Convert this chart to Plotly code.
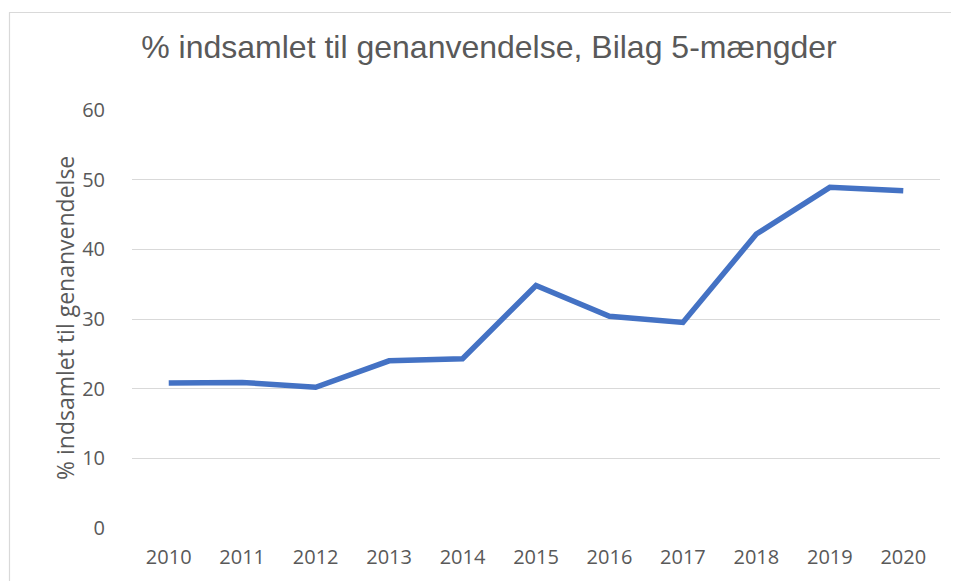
import plotly.graph_objects as go

years = ["2010", "2011", "2012", "2013", "2014", "2015", "2016", "2017", "2018", "2019", "2020"]
pct = [20.8, 20.9, 20.2, 24.0, 24.3, 34.8, 30.4, 29.5, 42.2, 48.9, 48.4]
y_ticks = [0, 10, 20, 30, 40, 50, 60]

W, H = 959, 581
OFF = 8  # page offset of the figure in the browser
# target screen positions of plot area
SL, SR, ST, SB = 132, 940, 110, 528
L, T = SL - OFF, ST - OFF
R = W - (SR - OFF)
B = H - (SB - OFF)

def px_x(p):  # screen px -> paper
    return (p - SL) / (SR - SL)

def px_y(p):
    return (SB - p) / (SB - ST)

fig = go.Figure()
fig.add_trace(go.Scatter(
    x=years, y=pct, mode="lines",
    line=dict(color="#4472C4", width=5.5),
    hoverinfo="x+y",
))

fig.add_shape(type="rect", xref="paper", yref="paper",
              x0=px_x(9.5), x1=px_x(975), y0=px_y(600), y1=px_y(12.5),
              line=dict(color="#d9d9d9", width=1.2), fillcolor="rgba(0,0,0,0)", layer="below")

fig.add_annotation(text="% indsamlet til genanvendelse", xref="paper", yref="paper",
                   x=px_x(65), y=px_y(318), xanchor="center", yanchor="middle",
                   textangle=-90, showarrow=False,
                   font=dict(family="Open Sans, Liberation Sans", size=23, color="#595959"))

fig.update_layout(
    width=W, height=H,
    margin=dict(l=L, r=R, t=T, b=B),
    paper_bgcolor="white", plot_bgcolor="white",
    showlegend=False,
    title=dict(text="% indsamlet til genanvendelse, Bilag 5-mængder",
               font=dict(family="Liberation Sans, Arial", size=32, color="#595959"),
               x=px_x(489), xanchor="center", xref="paper",
               y=1 - (47 - OFF) / H, yanchor="middle"),
    font=dict(family="Open Sans, Liberation Sans", color="#595959"),
)
fig.update_xaxes(
    type="category", range=[-0.5, 10.5],
    showgrid=False, showline=False, zeroline=False,
    ticks="outside", ticklen=11, tickcolor="rgba(0,0,0,0)",
    tickfont=dict(size=20, color="#595959"),
)
fig.update_yaxes(
    range=[0, 60], tickvals=y_ticks,
    showgrid=True, gridcolor="#d9d9d9", gridwidth=1.3,
    zeroline=False, showline=False,
    ticks="outside", ticklen=22, tickcolor="rgba(0,0,0,0)",
    tickfont=dict(size=20, color="#595959"),
)

fig.write_html("out.html")
